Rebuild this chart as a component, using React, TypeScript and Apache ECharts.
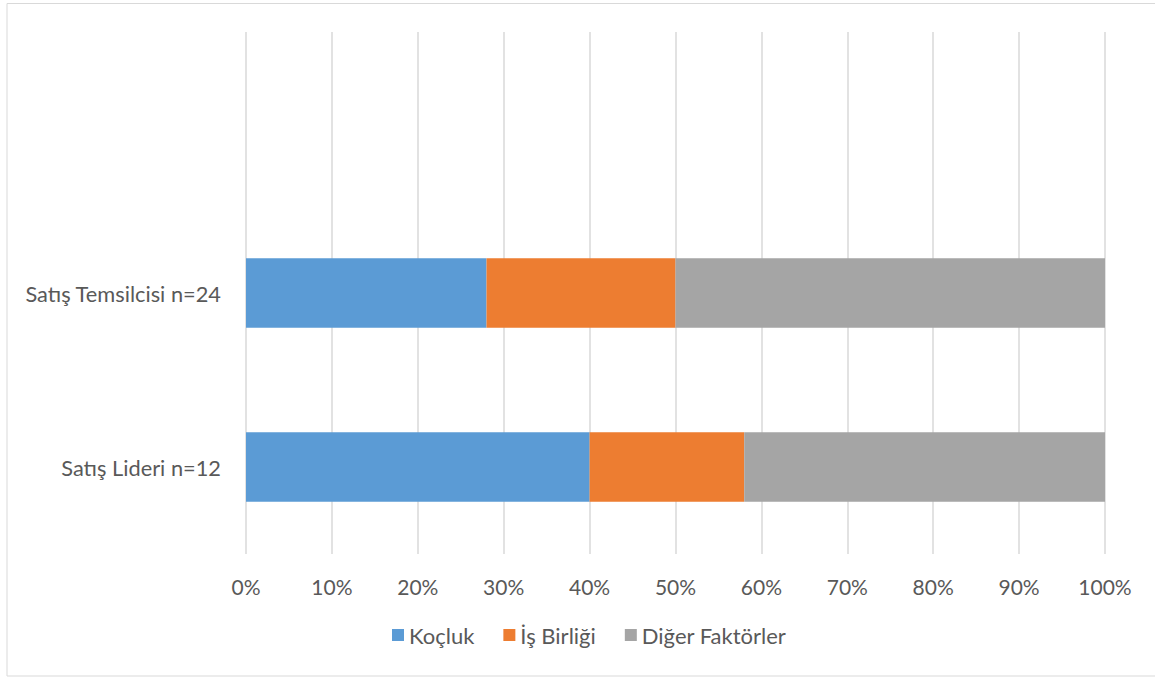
import React, { useEffect, useRef } from "react";
import * as echarts from "echarts";

const categories = ["Satış Lideri n=12", "Satış Temsilcisi n=24", ""];
const seriesNames = ["Koçluk", "İş Birliği", "Diğer Faktörler"];
const kocluk = [40, 28, null];
const isBirligi = [18, 22, null];
const diger = [42, 50, null];
const colors = ["#5B9BD5", "#ED7D31", "#A5A5A5"];

export default function App() {
  const ref = useRef<HTMLDivElement>(null);
  useEffect(() => {
    if (!ref.current) return;
    const chart = echarts.init(ref.current, null, { renderer: "svg" });
    const font = "Lato, 'Open Sans', sans-serif";
    const values = [kocluk, isBirligi, diger];
    chart.setOption({
      animation: false,
      textStyle: { fontFamily: font },
      graphic: [
        {
          type: "rect",
          shape: { x: 7, y: 3.5, width: 1160, height: 672.5 },
          style: { fill: "none", stroke: "#d9d9d9", lineWidth: 1 },
          silent: true,
        },
      ],
      grid: { left: 246, right: 50, top: 32, bottom: 123, containLabel: false },
      xAxis: {
        type: "value",
        min: 0,
        max: 100,
        interval: 10,
        axisLine: { show: false },
        axisTick: { show: false },
        splitLine: { show: true, lineStyle: { color: "#d9d9d9", width: 1.5 } },
        axisLabel: {
          formatter: "{value}%",
          color: "#595959",
          fontSize: 21,
          fontFamily: font,
          margin: 22,
        },
      },
      yAxis: {
        type: "category",
        data: categories,
        axisLine: { show: false },
        axisTick: { show: false },
        splitLine: { show: false },
        axisLabel: { color: "#595959", fontSize: 21.8, fontFamily: font, margin: 25 },
      },
      legend: {
        bottom: 26,
        left: 387,
        padding: [5, 5, 5, 5],
        itemWidth: 12,
        itemHeight: 12,
        itemGap: 29,
        icon: "rect",
        textStyle: { color: "#595959", fontSize: 22, fontFamily: font },
        data: seriesNames,
      },
      series: seriesNames.map((name, i) => ({
        name,
        type: "bar",
        stack: "total",
        data: values[i],
        barCategoryGap: "60%",
        itemStyle: { color: colors[i] },
      })),
    });
    return () => chart.dispose();
  }, []);
  return (
    <div
      ref={ref}
      style={{ position: "fixed", left: 0, top: 0, width: 1155, height: 677, background: "#fff" }}
    />
  );
}
